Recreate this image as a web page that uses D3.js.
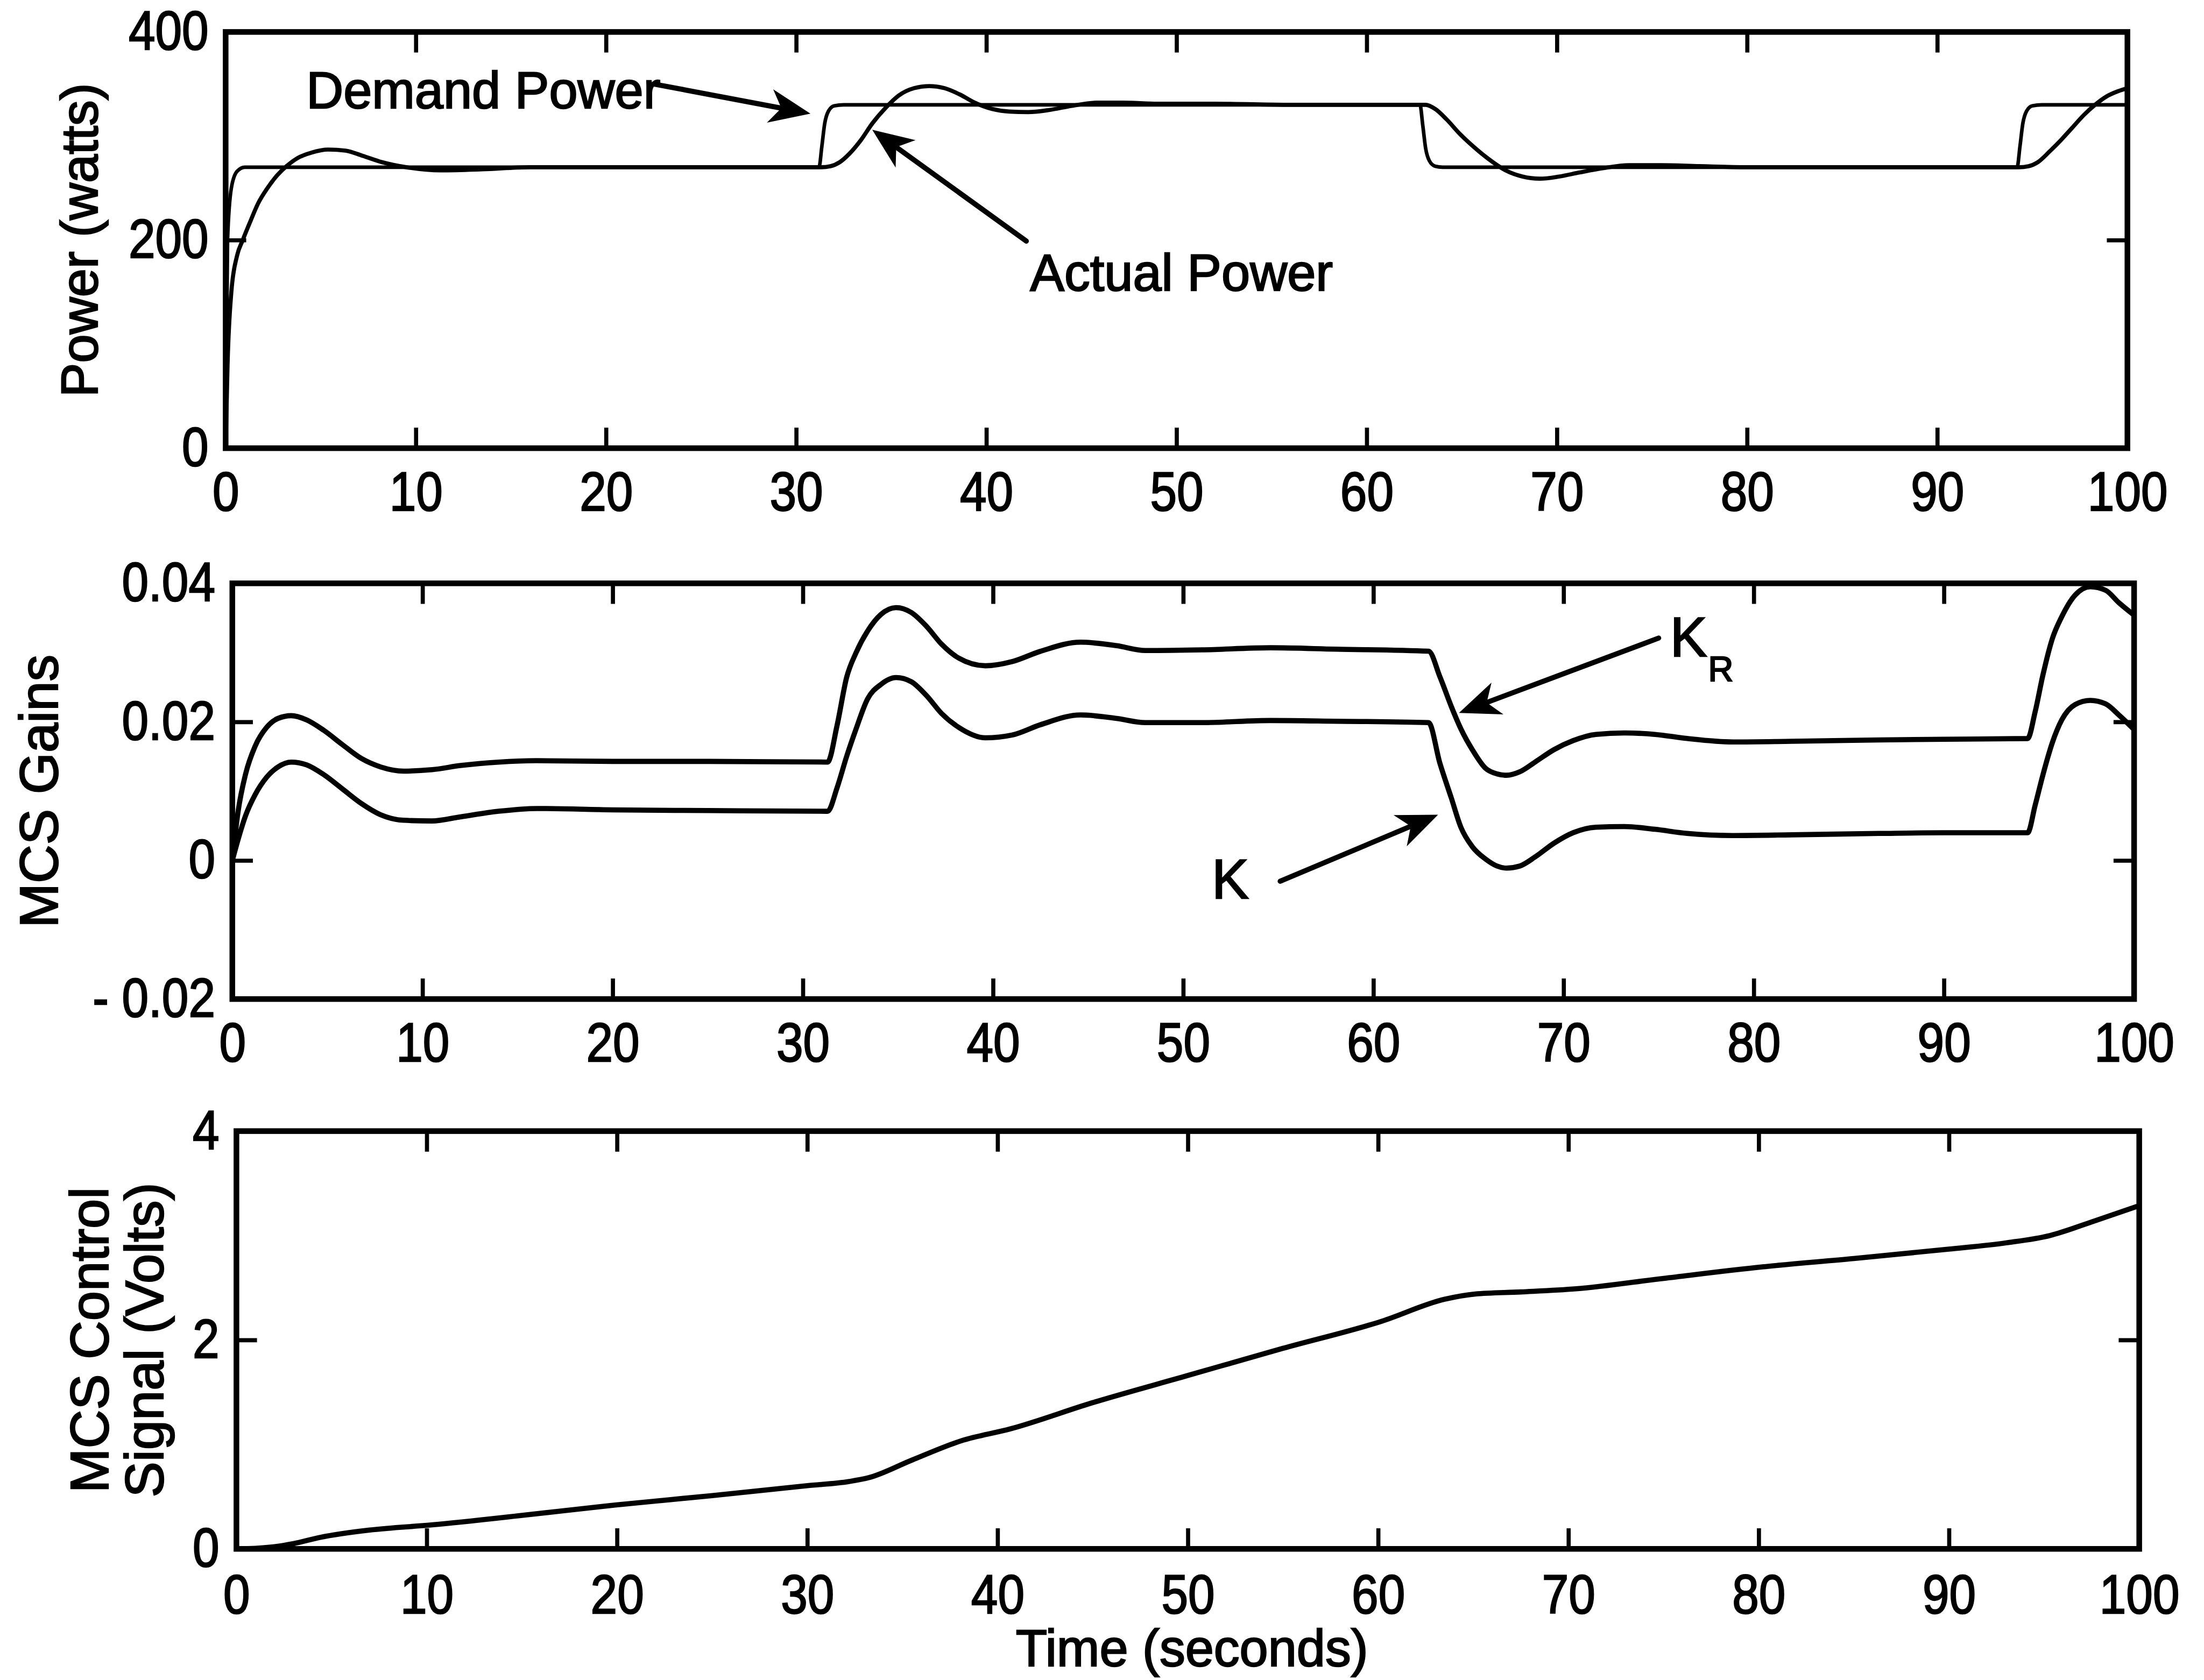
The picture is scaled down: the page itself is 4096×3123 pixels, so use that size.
<!DOCTYPE html>
<html>
<head>
<meta charset="utf-8">
<script src="https://cdn.jsdelivr.net/npm/d3@7"></script>
<style>
  body { margin: 0; background: #fff; }
  svg text { font-family: "Liberation Sans", Arial, Helvetica, sans-serif; fill: #000; stroke: #000; stroke-width: 2.5px; }
</style>
</head>
<body>
<script>
// ---- data ----
var xTicks = [0, 10, 20, 30, 40, 50, 60, 70, 80, 90, 100];

// panel 1 : power (watts)
var demandT = [0, 0.1, 0.3, 0.6, 1.0, 31.2, 31.35, 31.5, 31.7, 32.0, 32.5, 62.8, 62.95, 63.1, 63.3, 63.6, 64.0, 94.2, 94.35, 94.5, 94.7, 95.0, 95.5, 100];
var demandP = [0, 200, 250, 266, 270, 270, 290, 312, 324, 329, 330, 330, 310, 288, 276, 271, 270, 270, 290, 312, 324, 329, 330, 330];
var actualT = [0, 0.1, 0.3, 0.6, 0.9, 1.3, 1.7, 2.2, 2.7, 3.2, 3.8, 4.5, 5.4, 6.3, 7.2, 8.2, 9.5, 11.3, 13.5, 16, 20, 25,
  31.3, 31.8, 32.3, 32.8, 33.4, 34.0, 34.7, 35.4, 36.2, 37.0, 37.8, 38.6, 39.4, 40.3, 41.2, 42.2, 43.3, 44.5, 45.8, 47.2, 49, 52, 56, 60,
  63.1, 63.6, 64.2, 64.9, 65.6, 66.4, 67.3, 68.2, 69.1, 70.1, 71.2, 72.4, 73.8, 75.5, 77.5, 80, 85, 90,
  94.3, 94.8, 95.3, 95.9, 96.5, 97.1, 97.7, 98.3, 98.9, 99.5, 100];
var actualP = [0, 80, 150, 185, 200, 218, 235, 250, 262, 271, 279, 284, 287, 286, 281, 275, 270, 267, 268, 270, 270, 270,
  270, 271, 275, 283, 296, 312, 327, 339, 346, 348, 346, 340, 332, 326, 323.5, 323, 325, 329, 332, 332, 331, 331, 330, 330,
  330, 326, 316, 302, 290, 278, 267, 261, 259, 261, 265, 269, 272, 272, 271, 270, 270, 270,
  270, 271, 275, 285, 296, 308, 320, 330, 338, 343, 346];
var powerTicks = [0, 200, 400];

// panel 2 : MCS gains
var gainT = [0, 0.3, 0.7, 1.2, 1.8, 2.4, 3.1, 3.9, 4.8, 5.8, 6.8, 7.8, 9.0, 10.5, 12, 14, 16, 20, 25,
  31.3, 31.8, 32.3, 32.8, 33.4, 34.1, 34.9, 35.7, 36.5, 37.3, 38.2, 39.6, 41.0, 42.5, 44.6, 46.5, 48.0, 51, 54.6, 58,
  62.9, 63.5, 64.1, 64.6, 65.2, 65.9, 66.5, 67.0, 67.7, 68.5, 69.5, 70.5, 71.7, 73.2, 74.8, 76.5, 78.9, 82, 86.6, 90,
  94.4, 94.8, 95.2, 95.7, 96.2, 96.9, 97.7, 98.5, 99.2, 100];
var gainKR = [0, 0.007, 0.0125, 0.0165, 0.0192, 0.0205, 0.0209, 0.0203, 0.0188, 0.0167, 0.0147, 0.0135, 0.0129, 0.0131, 0.0137, 0.0142, 0.0144, 0.0143, 0.0143,
  0.0142, 0.0195, 0.0264, 0.0300, 0.0331, 0.0355, 0.0365, 0.0358, 0.0338, 0.0312, 0.0292, 0.0281, 0.0287, 0.0302, 0.0315, 0.0310, 0.0303, 0.0304, 0.0307, 0.0305,
  0.0302, 0.0265, 0.0222, 0.0190, 0.0160, 0.0133, 0.0125, 0.0123, 0.0128, 0.0142, 0.0160, 0.0173, 0.0182, 0.0184, 0.0182, 0.0176, 0.0171, 0.0172, 0.0174, 0.0175,
  0.0176, 0.0215, 0.0267, 0.0320, 0.0352, 0.0383, 0.0395, 0.0390, 0.0372, 0.0354];
var gainK = [0, 0.003, 0.0065, 0.0095, 0.0120, 0.0135, 0.0142, 0.0138, 0.0124, 0.0103, 0.0082, 0.0066, 0.0058, 0.0057, 0.0063, 0.0071, 0.0075, 0.0073, 0.0072,
  0.0071, 0.0105, 0.0150, 0.0190, 0.0233, 0.0254, 0.0264, 0.0258, 0.0238, 0.0212, 0.0192, 0.0177, 0.0181, 0.0196, 0.0210, 0.0205, 0.0199, 0.0199, 0.0202, 0.0201,
  0.0199, 0.0140, 0.0090, 0.0048, 0.0020, 0.0002, -0.0008, -0.0011, -0.0008, 0.0005, 0.0025, 0.0040, 0.0048, 0.0049, 0.0045, 0.0039, 0.0036, 0.0037, 0.0039, 0.0040,
  0.0040, 0.0080, 0.0123, 0.0170, 0.0203, 0.0225, 0.0231, 0.0226, 0.0210, 0.0189];
var gainTicks = [-0.02, 0, 0.02, 0.04];
var gainTickLabels = ["- 0.02", "0", "0.02", "0.04"];

// panel 3 : MCS control signal (volts)
var signalT = [0, 1.0, 2.0, 3.0, 4.4, 7, 10.3, 15, 19.9, 25, 30, 32.2, 33.2, 35.5, 38.1, 40.7, 45, 50, 55, 60.2, 63.5, 65.1, 67.5, 70.4, 75, 80.2, 85, 90, 93, 95.3, 97.5, 99.9];
var signalV = [0, 0.005, 0.02, 0.05, 0.11, 0.18, 0.23, 0.32, 0.42, 0.51, 0.605, 0.645, 0.68, 0.85, 1.035, 1.15, 1.40, 1.66, 1.92, 2.18, 2.39, 2.44, 2.46, 2.49, 2.59, 2.70, 2.78, 2.87, 2.93, 3.00, 3.13, 3.28];
var signalTicks = [0, 2, 4];

// annotations, in data units: [tTail, vTail, tTip, vTip]
var demandArrow = [22.5, 350, 30.75, 321.5];
var actualArrow = [42.1, 199, 34.0, 306];
var krArrow = [75.0, 0.0321, 64.5, 0.0213];
var kArrow = [55.1, -0.0030, 63.4, 0.0066];

// ---- drawing ----
var svg = d3.select("body").append("svg")
  .attr("width", 4096)
  .attr("height", 3123)
  .attr("viewBox", "0 0 4288 3269");

svg.append("rect").attr("width", 4288).attr("height", 3269).attr("fill", "#fff");

var squeeze = 0.88;   // tick digits in the scan are narrow

function makePanel(box, yDomain, yTicks, yLabels, xPad) {
  var x = d3.scaleLinear().domain([0, 100]).range([box.left, box.right]);
  var y = d3.scaleLinear().domain(yDomain).range([box.bottom, box.top]);
  var g = svg.append("g");

  var bottom = g.append("g")
    .attr("transform", "translate(0," + box.bottom + ")")
    .call(d3.axisBottom(x).tickValues(xTicks).tickSize(-40).tickSizeOuter(0).tickPadding(xPad));
  var top = g.append("g")
    .attr("transform", "translate(0," + box.top + ")")
    .call(d3.axisTop(x).tickValues(xTicks).tickSize(-40).tickSizeOuter(0).tickFormat(""));
  var left = g.append("g")
    .attr("transform", "translate(" + box.left + ",0)")
    .call(d3.axisLeft(y).tickValues(yTicks).tickSize(-40).tickSizeOuter(0).tickPadding(28)
      .tickFormat(function(d, i) { return yLabels[i]; }));
  var right = g.append("g")
    .attr("transform", "translate(" + box.right + ",0)")
    .call(d3.axisRight(y).tickValues(yTicks).tickSize(-40).tickSizeOuter(0).tickFormat(""));

  [bottom, top, left, right].forEach(function(a) {
    a.select(".domain").remove();
    a.selectAll(".tick line").attr("stroke", "#000").attr("stroke-width", 8);
    a.attr("font-family", null).attr("font-size", 106);
  });
  bottom.selectAll("text").attr("transform", "scale(" + squeeze + ",1)");
  left.selectAll("text")
    .attr("x", -28 / squeeze - 6)
    .attr("transform", "scale(" + squeeze + ",1)");

  g.append("rect")
    .attr("x", box.left).attr("y", box.top)
    .attr("width", box.right - box.left).attr("height", box.bottom - box.top)
    .attr("fill", "none").attr("stroke", "#000").attr("stroke-width", 11);

  return { g: g, x: x, y: y };
}

function drawLine(p, ts, vs, width) {
  var line = d3.line()
    .x(function(d) { return p.x(d[0]); })
    .y(function(d) { return p.y(d[1]); })
    .curve(d3.curveMonotoneX);
  p.g.append("path")
    .attr("d", line(d3.zip(ts, vs)))
    .attr("fill", "none")
    .attr("stroke", "#000")
    .attr("stroke-width", width)
    .attr("stroke-linejoin", "round");
}

function drawArrow(p, a) {
  var x0 = p.x(a[0]), y0 = p.y(a[1]), x1 = p.x(a[2]), y1 = p.y(a[3]);
  var dx = x1 - x0, dy = y1 - y0, len = Math.sqrt(dx * dx + dy * dy);
  var ux = dx / len, uy = dy / len, nx = -uy, ny = ux;
  var L = 80, W = 33;
  p.g.append("line")
    .attr("x1", x0).attr("y1", y0)
    .attr("x2", x1 - ux * L * 0.6).attr("y2", y1 - uy * L * 0.6)
    .attr("stroke", "#000").attr("stroke-width", 10).attr("stroke-linecap", "round");
  var pts = [
    [x1, y1],
    [x1 - ux * L + nx * W, y1 - uy * L + ny * W],
    [x1 - ux * L * 0.72, y1 - uy * L * 0.72],
    [x1 - ux * L - nx * W, y1 - uy * L - ny * W]
  ];
  p.g.append("polygon")
    .attr("points", pts.map(function(q) { return q.join(","); }).join(" "))
    .attr("fill", "#000");
}

function yTitle(lines, xs, yc, size) {
  lines.forEach(function(s, i) {
    svg.append("text")
      .attr("transform", "translate(" + xs[i] + "," + yc + ") rotate(-90)")
      .attr("text-anchor", "middle")
      .attr("font-size", size)
      .text(s);
  });
}

// panel 1
var p1 = makePanel({ left: 439, right: 4139, top: 62, bottom: 872 }, [0, 400], powerTicks, ["0", "200", "400"], 46);
drawLine(p1, demandT, demandP, 7);
drawLine(p1, actualT, actualP, 8);
drawArrow(p1, demandArrow);
drawArrow(p1, actualArrow);
p1.g.append("text").attr("x", p1.x(4.24)).attr("y", p1.y(327)).attr("font-size", 100).text("Demand Power");
p1.g.append("text").attr("x", p1.x(42.3)).attr("y", p1.y(151.6)).attr("font-size", 100).text("Actual Power");
yTitle(["Power (watts)"], [189], (62 + 872) / 2, 100);

// panel 2
var p2 = makePanel({ left: 452, right: 4152, top: 1135, bottom: 1944 }, [-0.02, 0.04], gainTicks, gainTickLabels, 46);
drawLine(p2, gainT, gainKR, 10);
drawLine(p2, gainT, gainK, 10);
drawArrow(p2, krArrow);
drawArrow(p2, kArrow);
var kr = p2.g.append("text").attr("x", p2.x(75.6)).attr("y", p2.y(0.0295)).attr("font-size", 108);
kr.append("tspan").text("K");
kr.append("tspan").attr("dx", 2).attr("dy", 49).attr("font-size", 68).text("R");
p2.g.append("text").attr("x", p2.x(51.5)).attr("y", p2.y(-0.0055)).attr("font-size", 108).text("K");
yTitle(["MCS Gains"], [112], (1135 + 1944) / 2, 104);

// panel 3
var p3 = makePanel({ left: 460, right: 4162, top: 2201, bottom: 3014 }, [0, 4], signalTicks, ["0", "2", "4"], 50);
drawLine(p3, signalT, signalV, 10);
yTitle(["MCS Control", "Signal (Volts)"], [210, 317], (2201 + 3014) / 2, 104);
svg.append("text")
  .attr("x", (460 + 4162) / 2 + 8).attr("y", 3242)
  .attr("text-anchor", "middle").attr("font-size", 100)
  .text("Time (seconds)");
</script>
</body>
</html>
